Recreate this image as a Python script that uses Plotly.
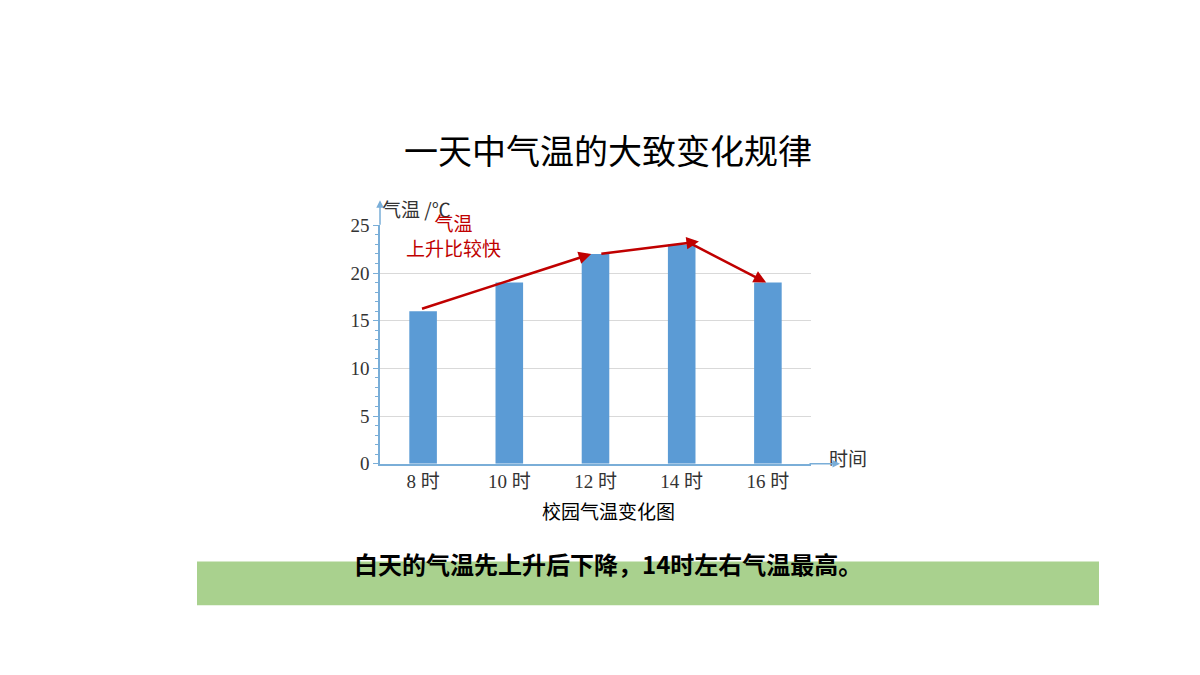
import plotly.graph_objects as go

hours = ["8 时", "10 时", "12 时", "14 时", "16 时"]
temps = [16, 19, 22, 23, 19]
yticks = [0, 5, 10, 15, 20, 25]

font_cn = "Noto Sans CJK SC"
red = "#c00000"
axis_blue = "#7aaed8"

fig = go.Figure()
fig.add_trace(go.Bar(x=list(range(len(hours))), y=temps, width=0.32,
                     marker=dict(color="#5b9bd5", line=dict(width=0))))

fig.update_layout(
    width=1200, height=675, plot_bgcolor="white", paper_bgcolor="white",
    showlegend=False, margin=dict(l=0, r=0, t=0, b=0),
    xaxis=dict(domain=[372/1200, 803/1200], range=[-0.5, 4.5],
               tickvals=list(range(len(hours))), ticktext=hours,
               tickfont=dict(family="Liberation Serif, " + font_cn, size=19, color="#333"),
               showline=True, linecolor=axis_blue, linewidth=1.5, showgrid=False,
               zeroline=False, fixedrange=True),
    yaxis=dict(domain=[1-460/675, 1-214/675], range=[0, 25],
               tickvals=yticks, tickfont=dict(family="Liberation Serif", size=19, color="#333"),
               showline=True, linecolor=axis_blue, linewidth=1.5,
               gridcolor="#d9d9d9", zeroline=False, ticks="outside", ticklen=5,
               tickcolor=axis_blue,
               minor=dict(dtick=1, ticks="outside", ticklen=3, tickcolor=axis_blue)),
)

anns = [
    dict(x=0.5, y=0.84, xref="paper", yref="paper", text="一天中气温的大致变化规律",
         showarrow=False, font=dict(family=font_cn, size=34, color="black")),
    dict(x=372/1200, y=1-181/675, xref="paper", yref="paper", text="气温 /℃",
         showarrow=False, font=dict(family=font_cn, size=19, color="#333")),
    dict(x=861/1200, y=1-470/675, xref="paper", yref="paper", text="时间",
         showarrow=False, font=dict(family=font_cn, size=19, color="#333")),
    dict(x=600/1200, y=1-524/675, xref="paper", yref="paper", text="校园气温变化图",
         showarrow=False, font=dict(family=font_cn, size=19, color="black")),
    dict(x=0.35, y=24.0, xref="x", yref="y", text="气温<br>上升比较快",
         showarrow=False, font=dict(family=font_cn, size=19, color=red)),
    dict(x=2.6, y=26.4, xref="x", yref="y", text="气温<br>上升相对慢一些",
         showarrow=False, font=dict(family=font_cn, size=19, color=red)),
    # axis arrows
    dict(x=832/1200, y=1-460/675, ax=-32, ay=0, xref="paper", yref="paper",
         text="", showarrow=True, arrowhead=2, arrowcolor=axis_blue, arrowwidth=1.5),
    dict(x=372/1200, y=1-188/675, ax=0, ay=26, xref="paper", yref="paper",
         text="", showarrow=True, arrowhead=2, arrowcolor=axis_blue, arrowwidth=1.5),
    # trend arrows
    dict(x=1.95, y=22.0, ax=-0.03, ay=16.2, xref="x", yref="y", axref="x", ayref="y",
         text="", showarrow=True, arrowhead=2, arrowcolor=red, arrowwidth=2.5),
    dict(x=3.2, y=23.3, ax=2.05, ay=22.0, xref="x", yref="y", axref="x", ayref="y",
         text="", showarrow=True, arrowhead=2, arrowcolor=red, arrowwidth=2.5),
    dict(x=3.98, y=19.0, ax=3.1, ay=23.1, xref="x", yref="y", axref="x", ayref="y",
         text="", showarrow=True, arrowhead=2, arrowcolor=red, arrowwidth=2.5),
    dict(x=0.5, y=1-583/675, xref="paper", yref="paper",
         text="<b>白天的气温先上升后下降，14时左右气温最高。</b>",
         showarrow=False, font=dict(family=font_cn, size=24, color="black")),
]
fig.update_layout(annotations=anns)
fig.add_shape(type="rect", xref="paper", yref="paper", x0=189/1200, x1=1091/1200,
              y0=1-606/675, y1=1-561/675, fillcolor="#a9d18e", line=dict(width=0),
              layer="below")

fig.write_html("out.html")
